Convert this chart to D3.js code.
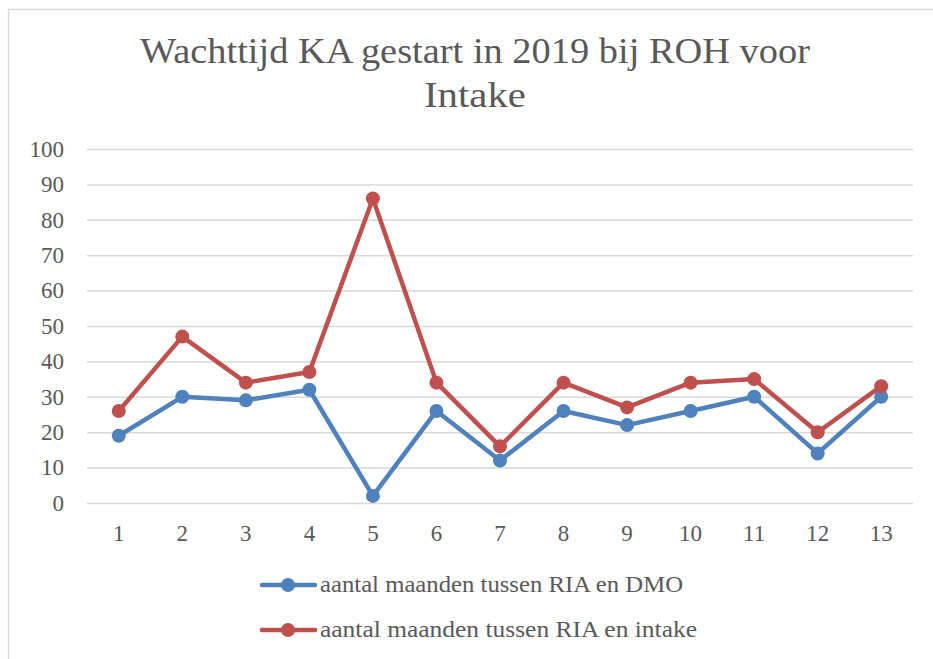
<!DOCTYPE html>
<html>
<head>
<meta charset="utf-8">
<script src="https://cdn.jsdelivr.net/npm/d3@7"></script>
<style>
  body { margin: 0; background: #fff; }
  svg text { font-family: "Liberation Serif", "DejaVu Serif", serif; fill: #595959; }
</style>
</head>
<body>
<div class="chart-container"></div>
<script>
const categories = ["1", "2", "3", "4", "5", "6", "7", "8", "9", "10", "11", "12", "13"];
const dmoValues = [19, 30, 29, 32, 2, 26, 12, 26, 22, 26, 30, 14, 30];
const intakeValues = [26, 47, 34, 37, 86, 34, 16, 34, 27, 34, 35, 20, 33];
const yTicks = [0, 10, 20, 30, 40, 50, 60, 70, 80, 90, 100];
const seriesNames = ["aantal maanden tussen RIA en DMO", "aantal maanden tussen RIA en intake"];
const seriesColors = ["#4f81bd", "#c0504d"];

const W = 933, H = 659;
const margin = {top: 149, right: 20, bottom: 156, left: 87};
const width = W - margin.left - margin.right,
      height = H - margin.top - margin.bottom;
const fontFam = "Liberation Serif, DejaVu Serif, serif";

const svg = d3.select(".chart-container").append("svg")
    .attr("width", W)
    .attr("height", H);

// chart frame
svg.append("rect")
    .attr("x", 8.5).attr("y", 9.5)
    .attr("width", W).attr("height", H)
    .attr("fill", "none")
    .attr("stroke", "#d9d9d9")
    .attr("stroke-width", 1.5);

// title
const title = svg.append("text")
    .attr("text-anchor", "middle")
    .style("font-size", "36px");
title.append("tspan").attr("x", 475).attr("y", 63)
    .attr("textLength", 670).attr("lengthAdjust", "spacingAndGlyphs")
    .text("Wachttijd KA gestart in 2019 bij ROH voor");
title.append("tspan").attr("x", 475).attr("y", 107)
    .attr("textLength", 102).attr("lengthAdjust", "spacingAndGlyphs")
    .text("Intake");

const g = svg.append("g")
    .attr("transform", "translate(" + margin.left + "," + margin.top + ")");

const x = d3.scaleBand().domain(categories).range([0, width]);
const y = d3.scaleLinear().domain([0, 100]).range([height, 0]);

// gridlines
g.append("g")
    .call(d3.axisLeft(y).tickValues(yTicks).tickSize(-width).tickFormat(""))
    .call(a => a.select(".domain").remove())
    .call(a => a.selectAll("line").attr("stroke", "#d9d9d9").attr("stroke-width", 1.5));

// y labels
g.append("g")
    .call(d3.axisLeft(y).tickValues(yTicks).tickSize(0).tickPadding(23))
    .call(a => a.select(".domain").remove())
    .call(a => a.selectAll("text").style("font-size", "23px").attr("fill", "#595959")
      .attr("font-family", fontFam));

// x labels
g.append("g")
    .attr("transform", "translate(0," + height + ")")
    .call(d3.axisBottom(x).tickSize(0).tickPadding(22))
    .call(a => a.select(".domain").remove())
    .call(a => a.selectAll("text").style("font-size", "23px").attr("fill", "#595959")
      .attr("font-family", fontFam));

const cx = (d, i) => x(categories[i]) + x.bandwidth() / 2;
const line = d3.line().x(cx).y(d => y(d));

[dmoValues, intakeValues].forEach((vals, s) => {
  g.append("path")
      .datum(vals)
      .attr("fill", "none")
      .attr("stroke", seriesColors[s])
      .attr("stroke-width", 4.5)
      .attr("stroke-linejoin", "round")
      .attr("stroke-linecap", "round")
      .attr("d", line);
  g.selectAll(".dot" + s)
      .data(vals)
    .enter().append("circle")
      .attr("r", 7)
      .attr("cx", cx)
      .attr("cy", d => y(d))
      .attr("fill", seriesColors[s]);
});

// legend
const legendWidths = [363, 377];
const legend = svg.append("g");
seriesNames.forEach((name, i) => {
  const ly = 585 + i * 45;
  legend.append("line")
      .attr("x1", 262).attr("x2", 315)
      .attr("y1", ly).attr("y2", ly)
      .attr("stroke", seriesColors[i])
      .attr("stroke-width", 4.5)
      .attr("stroke-linecap", "round");
  legend.append("circle")
      .attr("cx", 288).attr("cy", ly).attr("r", 7)
      .attr("fill", seriesColors[i]);
  legend.append("text")
      .attr("x", 320).attr("y", ly + 7)
      .attr("textLength", legendWidths[i])
      .attr("lengthAdjust", "spacingAndGlyphs")
      .style("font-size", "23px")
      .text(name);
});
</script>
</body>
</html>
